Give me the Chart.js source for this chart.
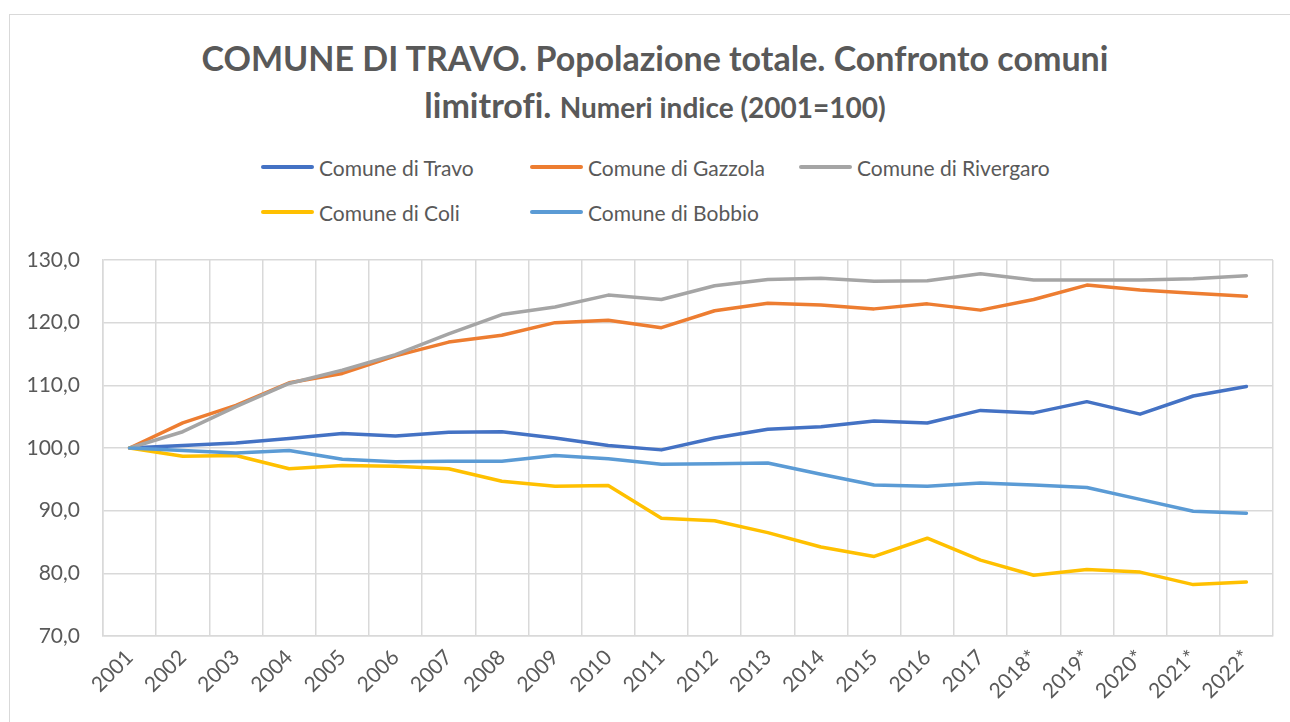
<!DOCTYPE html>
<html lang="it">
<head>
<meta charset="utf-8">
<title>Comune di Travo - popolazione totale</title>
<script src="https://cdn.jsdelivr.net/npm/chart.js@4/dist/chart.umd.min.js"></script>
<style>
  body { margin: 0; background: #fff; width: 1290px; height: 722px; overflow: hidden; position: relative; font-family: Lato, 'Open Sans', sans-serif; color: #595959; }
  #cornice { position: absolute; left: 9px; top: 14px; width: 1400px; height: 800px; border: 1.5px solid #D9D9D9; }
  #titolo { position: absolute; left: 0; width: 1310px; top: 34px; text-align: center; font-weight: 700; font-size: 34px; line-height: 47px; font-variant-ligatures: none; }
  #titolo .piccolo { font-size: 28px; }
  #legenda { position: absolute; left: 261px; top: 154px; display: grid; grid-template-columns: 269px 269px 269px; row-gap: 19px; font-size: 21px; }
  #legenda div { display: flex; align-items: center; height: 26px; white-space: nowrap; }
  #legenda span.linea { display: inline-block; width: 53px; height: 4px; border-radius: 2px; margin-right: 5px; }
  #grafico { position: absolute; left: 0; top: 0; }
</style>
</head>
<body>
<div id="cornice"></div>
<div id="titolo">COMUNE DI TRAVO. Popolazione totale. Confronto comuni<br>limitrofi. <span class="piccolo">Numeri indice (2001=100)</span></div>
<div id="legenda"></div>
<canvas id="grafico" width="1290" height="722"></canvas>
<script>
// anni (gli ultimi con asterisco come nell'originale)
const anni = ['2001', '2002', '2003', '2004', '2005', '2006', '2007', '2008', '2009', '2010', '2011',
  '2012', '2013', '2014', '2015', '2016', '2017', '2018*', '2019*', '2020*', '2021*', '2022*'];

// numeri indice (2001 = 100)
const travo = [100, 100.4, 100.8, 101.5, 102.3, 101.9, 102.5, 102.6, 101.6, 100.4, 99.7,
  101.6, 103.0, 103.4, 104.3, 104.0, 106.0, 105.6, 107.4, 105.4, 108.3, 109.8];
const gazzola = [100, 104.0, 106.8, 110.4, 111.9, 114.7, 116.9, 118.0, 120.0, 120.4, 119.2,
  121.9, 123.1, 122.8, 122.2, 123.0, 122.0, 123.7, 126.0, 125.2, 124.7, 124.2];
const rivergaro = [100, 102.6, 106.6, 110.3, 112.4, 114.9, 118.2, 121.3, 122.5, 124.4, 123.7,
  125.9, 126.9, 127.1, 126.6, 126.7, 127.8, 126.8, 126.8, 126.8, 127.0, 127.5];
const coli = [100, 98.7, 98.8, 96.7, 97.2, 97.1, 96.7, 94.7, 93.9, 94.0, 88.8,
  88.4, 86.5, 84.2, 82.7, 85.6, 82.1, 79.7, 80.6, 80.2, 78.2, 78.6];
const bobbio = [100, 99.6, 99.2, 99.6, 98.2, 97.8, 97.9, 97.9, 98.8, 98.3, 97.4,
  97.5, 97.6, 95.8, 94.1, 93.9, 94.4, 94.1, 93.7, 91.8, 89.9, 89.6];

const nomiSerie = ['Comune di Travo', 'Comune di Gazzola', 'Comune di Rivergaro', 'Comune di Coli', 'Comune di Bobbio'];
const coloriSerie = ['#4472C4', '#ED7D31', '#A5A5A5', '#FFC000', '#5B9BD5'];
const valoriSerie = [travo, gazzola, rivergaro, coli, bobbio];

const tickAsseY = [70, 80, 90, 100, 110, 120, 130];

const coloreTesto = '#595959';
const coloreGriglia = '#D9D9D9';
const font = 'Lato, "Open Sans", sans-serif';

const datasets = valoriSerie.map((valori, i) => ({
  label: nomiSerie[i],
  data: valori,
  borderColor: coloriSerie[i],
  backgroundColor: coloriSerie[i],
  borderWidth: 3.5,
  pointRadius: 0,
  pointHoverRadius: 0,
  tension: 0,
  borderJoinStyle: 'round',
  borderCapStyle: 'round',
  order: valoriSerie.length - i // come in Excel: l'ultima serie sta sopra
}));

// legenda in HTML, disposta a colonne come nell'originale
const legenda = document.getElementById('legenda');
nomiSerie.forEach((nome, i) => {
  const voce = document.createElement('div');
  voce.innerHTML = `<span class="linea" style="background:${coloriSerie[i]}"></span>${nome}`;
  legenda.appendChild(voce);
});

new Chart(document.getElementById('grafico'), {
  type: 'line',
  data: { labels: anni, datasets },
  options: {
    responsive: false,
    animation: false,
    devicePixelRatio: 1,
    layout: { padding: { top: 260, right: 17, bottom: 0, left: 0 } },
    plugins: {
      legend: { display: false },
      title: { display: false },
      tooltip: { enabled: false }
    },
    scales: {
      x: {
        offset: true,
        grid: { offset: true, color: coloreGriglia, lineWidth: 1.5, drawTicks: false },
        border: { color: coloreGriglia, width: 1.5 },
        ticks: {
          color: coloreTesto,
          font: { family: font, size: 21 },
          minRotation: 45,
          maxRotation: 45,
          autoSkip: false,
          padding: 9
        },
        afterFit: (s) => { s.height = 86; }
      },
      y: {
        min: tickAsseY[0],
        max: tickAsseY[tickAsseY.length - 1],
        afterBuildTicks: (s) => { s.ticks = tickAsseY.map(v => ({ value: v })); },
        grid: { color: coloreGriglia, lineWidth: 1.5, drawTicks: false },
        border: { color: coloreGriglia, width: 1.5 },
        ticks: {
          color: coloreTesto,
          font: { family: font, size: 21 },
          padding: 23,
          callback: (v) => Number(v).toFixed(1).replace('.', ',')
        },
        afterFit: (s) => { s.width = 103; }
      }
    }
  }
});
</script>
</body>
</html>
